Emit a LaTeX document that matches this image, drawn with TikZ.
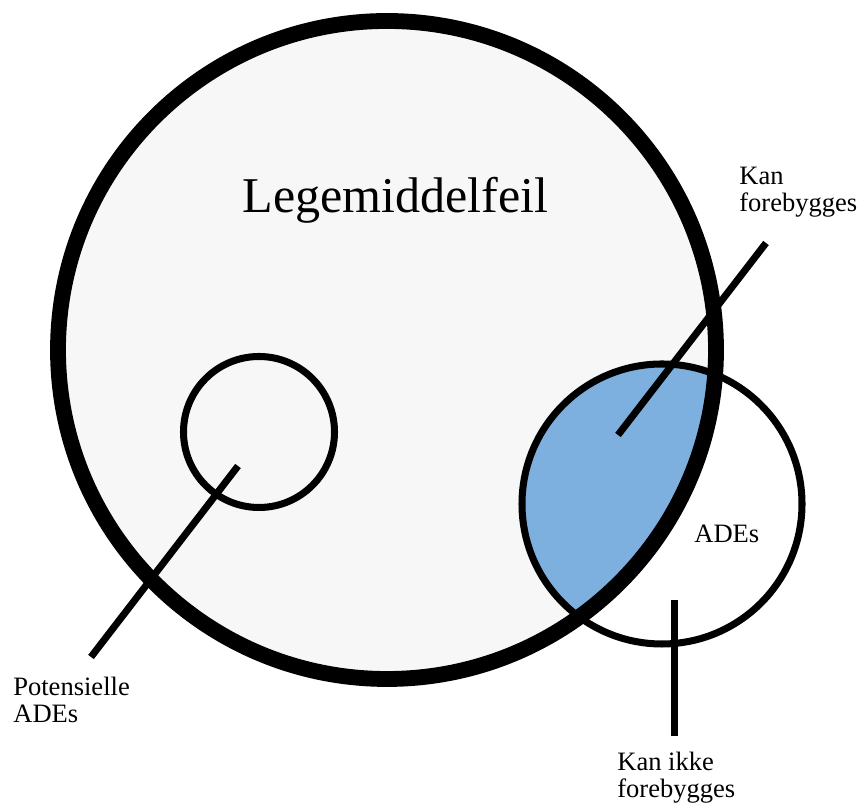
\documentclass[tikz,border=0pt]{standalone}
\usepackage{fontspec}
\setmainfont{Liberation Serif}
\usepackage{tkz-euclide}
\definecolor{fillgray}{HTML}{F7F7F7}
\definecolor{adeblue}{HTML}{7EB0DF}
\tikzset{lbl/.style={inner sep=0pt,align=left,anchor=base west,
    font=\fontsize{15.1}{15.4}\selectfont}}

\begin{document}
\begin{tikzpicture}
\useasboundingbox (0,0) rectangle (17.26,16.06);
\tkzSetUpLine[line width=4pt,color=black]

\tkzDefPoints{7.74/9.06/O1,1.16/9.06/A,5.18/7.42/O2,3.67/7.42/B,13.24/5.98/O3,10.44/5.98/C}
\tkzDefPoints{4.76/6.74/P1,1.82/2.92/P2,12.36/7.36/K1,15.32/11.2/K2,13.49/4.06/I1,13.49/1.34/I2}

\tkzFillCircle[fill=fillgray](O1,A)
\begin{scope}
\tkzClipCircle(O1,A)
\tkzFillCircle[fill=adeblue](O3,C)
\end{scope}

\tkzDrawCircle[line width=4pt,color=black](O2,B)
\tkzDrawCircle[line width=4pt,color=black](O3,C)
\tkzDrawCircle[line width=9pt,color=black](O1,A)

\tkzDrawSegments[line width=4pt,color=black,line cap=butt](P1,P2 K1,K2 I1,I2)

\node[inner sep=0pt,anchor=base,font=\fontsize{28.5}{30}\selectfont] (title) at (7.91,11.80) {Legemiddelfeil};
\node[lbl] (kan) at (14.78,11.82) {Kan\\forebygges};
\node[lbl] (ades) at (13.88,5.20) {ADEs};
\node[lbl] (pot) at (0.26,1.60) {Potensielle\\ADEs};
\node[lbl] (ikke) at (12.34,0.10) {Kan ikke\\forebygges};

\end{tikzpicture}
\end{document}
